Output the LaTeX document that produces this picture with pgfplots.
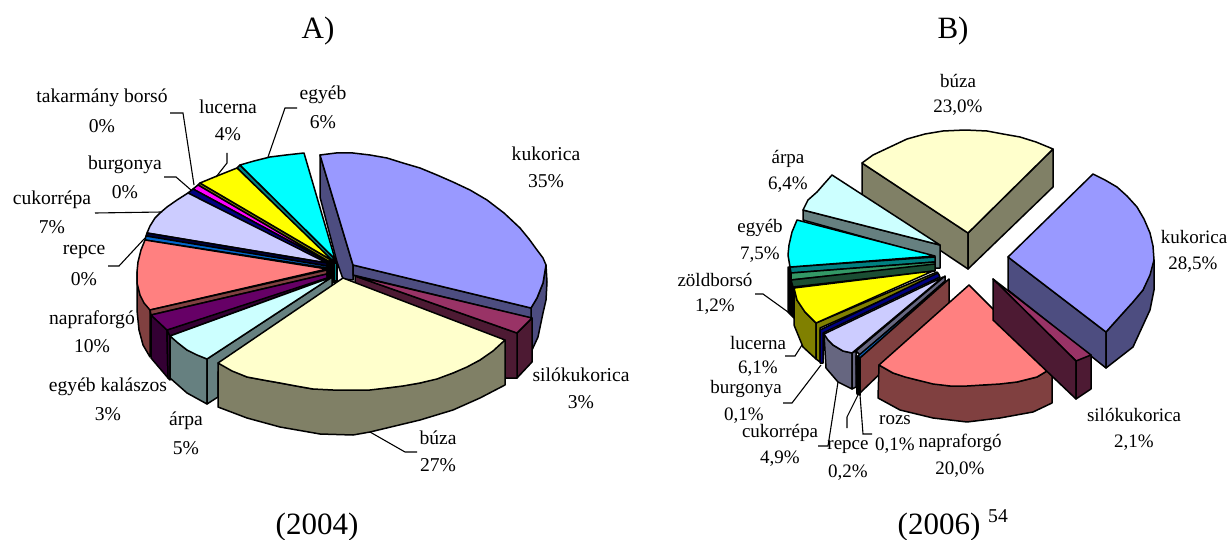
\documentclass[border=0pt]{standalone}
\usepackage{fontspec}
\setmainfont{Liberation Serif}
\usepackage{pgfplots}
\pgfplotsset{compat=1.18}
\definecolor{kuk}{HTML}{9999FF}\definecolor{kukd}{HTML}{4D4D80}
\definecolor{sil}{HTML}{993366}\definecolor{sild}{HTML}{4D1A33}
\definecolor{buz}{HTML}{FFFFCC}\definecolor{buzd}{HTML}{808066}
\definecolor{arp}{HTML}{CCFFFF}\definecolor{arpd}{HTML}{668080}
\definecolor{kal}{HTML}{660066}\definecolor{kald}{HTML}{330033}
\definecolor{nap}{HTML}{FF8080}\definecolor{napd}{HTML}{804040}
\definecolor{cuk}{HTML}{CCCCFF}\definecolor{cukd}{HTML}{666680}
\definecolor{rep}{HTML}{0066CC}\definecolor{repd}{HTML}{003366}
\definecolor{bur}{HTML}{000080}\definecolor{burd}{HTML}{000040}
\definecolor{tak}{HTML}{FF00FF}
\definecolor{luc}{HTML}{FFFF00}\definecolor{lucd}{HTML}{808000}
\definecolor{egy}{HTML}{00FFFF}\definecolor{egyd}{HTML}{008080}
\definecolor{zol}{HTML}{339966}\definecolor{zold}{HTML}{1A4D33}
% filled face and leader line, coordinates are reference pixels
\newcommand{\pg}[2]{\addplot[draw=black,line width=0.75pt,line join=round,fill=#1] coordinates {#2} --cycle;}
\newcommand{\ld}[1]{\addplot[draw=black,line width=0.55pt] coordinates {#1};}
\newcommand{\lab}[3]{\node[font=\fontsize{9.8}{12}\selectfont,inner sep=0pt] at (axis cs:#1,#2) {#3};}
\newcommand{\labb}[3]{\node[font=\fontsize{9.5}{12}\selectfont,inner sep=0pt] at (axis cs:#1,#2) {#3};}
\newcommand{\tit}[3]{\node[font=\fontsize{15.5}{18}\selectfont,inner sep=0pt] at (axis cs:#1,#2) {#3};}
\begin{document}
\begin{tikzpicture}
\begin{axis}[
    name=ax,
    hide axis, scale only axis, width=613.5pt, height=270pt,
    xmin=0, xmax=1227, ymin=0, ymax=540, y dir=reverse,
    enlargelimits=false, clip=false, no marks,
]
% ---- A) 2004
% kukorica
\pg{kukd}{(546,265)(547,282)(546,300)(543,313)(538,337)(532,350)(531,308)(537,298)(543,283)}
\pg{kukd}{(320,155)(353,265)(353,280)(343,279)(337,262)(320,197)}
\pg{kukd}{(353,265)(531,308)(531,318)(353,275)}
\pg{kuk}{(320,155)(336,153)(353,153)(370,155)(387,158)(403,163)(420,168)(437,175)(453,182)(470,190)(487,200)(504,213)(520,228)(529,239)(537,250)(543,258)(546,265)(543,283)(537,298)(531,308)(353,265)}
% silokukorica
\pg{sild}{(517,333)(532,318)(532,362)(517,378)}
\pg{sild}{(355,276)(517,333)(517,378)(505,378)(355,300)}
\pg{sil}{(355,276)(532,318)(525,325)(517,333)}
% egyeb
\pg{egyd}{(240,165)(335,259)(333,262)(237,168)}
\pg{egy}{(304,153)(286,155)(270,157)(254,161)(240,165)(335,259)}
% lucerna
\pg{lucd}{(200,183)(333,261)(331,263)(198,185)}
\pg{luc}{(237,168)(217,176)(200,183)(333,261)}
% takarmany borso, burgonya
\pg{tak}{(198,185)(193,189)(328,262)(331,263)}
\pg{bur}{(193,189)(188,193)(326,263)(330,263)}
% cukorrepa
\pg{cuk}{(188,193)(177,200)(167,207)(160,213)(155,218)(150,226)(147,233)(327,263)}
\pg{burd}{(147,233)(327,263)(327,266)(146,236)}
\pg{rep}{(146,236)(327,266)(327,268)(145,240)}
% napraforgo
\pg{napd}{(137,272)(140,295)(150,310)(150,357)(143,345)(139,330)(137,310)}
\pg{nap}{(145,240)(141,250)(138,262)(137,272)(137,283)(140,295)(144,303)(150,310)(327,269)}
\pg{napd}{(150,310)(327,270)(327,274)(151,315)}
% egyeb kalaszos
\pg{kald}{(151,315)(167,330)(168,378)(151,358)}
\pg{kald}{(167,330)(170,336)(170,380)(168,378)}
\pg{kald}{(167,330)(327,276)(332,277)(170,336)}
\pg{kal}{(151,315)(167,330)(327,278)(327,274)}
% kozep
\pg{black}{(327,262)(335,258)(337,263)(336,282)(332,282)(327,276)}
\pg{egyd}{(334,263)(337,263)(337,281)(334,281)}
% arpa
\pg{arpd}{(170,336)(187,350)(207,359)(207,404)(187,393)(170,378)}
\pg{arpd}{(332,277)(332,295)(218,372)(218,397)(207,404)(207,359)}
\pg{arp}{(332,277)(170,336)(178,343)(187,350)(197,355)(207,359)}
% buza
\pg{buzd}{(218,363)(247,377)(280,383)(313,389)(353,390)(387,388)(420,383)(453,373)(480,360)(505,340)(505,385)(480,398)(453,410)(420,420)(370,432)(353,435)(320,434)(280,427)(247,418)(218,407)}
\pg{buz}{(343,278)(505,340)(493,351)(480,360)(467,367)(453,373)(437,379)(420,383)(403,386)(387,388)(370,390)(353,390)(333,390)(313,389)(296,386)(280,383)(263,380)(247,377)(232,371)(218,363)}
% leaders A
\ld{(170,113)(183,113)(194,185)}
\ld{(227,153)(227,163)(216,177)}
\ld{(297,108)(285,108)(268,157)}
\ld{(164,177)(176,177)(191,190)}
\ld{(95,213)(162,212)}
\ld{(108,266)(119,266)(145,238)}
\ld{(370,432)(405,452)(417,452)}
% ---- B) 2006
% buza
\pg{buzd}{(862,163)(968,233)(968,269)(862,198)}
\pg{buzd}{(968,233)(1053,149)(1053,187)(968,269)}
\pg{buz}{(862,163)(873,155)(890,147)(907,139)(925,134)(943,131)(965,130)(987,131)(1003,134)(1020,137)(1036,142)(1053,149)(968,233)}
% arpa
\pg{arpd}{(803,210)(803,220)(935,257)(935,268)(940,268)(940,245)}
\pg{arp}{(832,175)(940,245)(803,210)(808,200)(817,192)(824,184)}
% egyeb, zoldborso
\pg{black}{(788,267)(792,267)(794,288)(794,318)(788,312)}
\pg{egyd}{(790,267)(935,257)(935,262)(791,273)}
\pg{egy}{(797,220)(792,232)(789,245)(788,255)(790,267)(935,256)}
\pg{zol}{(791,273)(935,262)(935,265)(791,280)}
\pg{zold}{(791,280)(935,264)(935,271)(793,287)}
% lucerna
\pg{lucd}{(794,288)(797,300)(805,312)(816,323)(816,359)(803,347)(794,325)}
\pg{lucd}{(816,323)(937,272)(939,275)(820,328)(820,362)(816,359)}
\pg{luc}{(933,271)(794,288)(797,300)(805,312)(816,323)}
% burgonya
\pg{bur}{(820,363)(823,363)(823,333)(940,277)(938,273)(820,330)}
% cukorrepa
\pg{cukd}{(824,334)(833,345)(843,351)(852,353)(852,389)(838,382)(826,368)}
\pg{cukd}{(852,353)(856,351)(856,387)(852,389)}
\pg{cukd}{(856,351)(945,276)(945,281)(860,355)}
\pg{cuk}{(943,277)(824,334)(828,340)(833,345)(843,351)(852,353)}
\pg{black}{(856,356)(860,356)(860,395)(857,394)}
\pg{rep}{(858,356)(944,283)(945,285)(860,358)}
% napraforgo
\pg{napd}{(949,279)(949,307)(860,393)(860,358)}
\pg{napd}{(879,365)(893,373)(917,380)(950,386)(983,385)(1017,382)(1037,377)(1052,368)(1052,403)(1033,412)(1000,418)(967,422)(933,418)(900,410)(878,398)}
\pg{nap}{(969,285)(879,365)(893,373)(905,377)(917,380)(933,384)(950,386)(967,386)(983,385)(1000,384)(1017,382)(1037,377)(1052,368)}
% kukorica
\pg{kukd}{(1008,257)(1106,332)(1106,368)(1008,290)}
\pg{kukd}{(1154,260)(1154,290)(1150,310)(1133,347)(1106,368)(1106,332)(1123,313)(1143,290)}
\pg{kuk}{(1008,257)(1093,174)(1105,180)(1117,187)(1127,196)(1137,207)(1144,219)(1150,233)(1153,246)(1154,260)(1150,275)(1143,290)(1133,302)(1123,313)(1114,323)(1106,332)}
% silokukorica
\pg{sil}{(993,279)(1091,355)(1082,361)(1076,361)}
\pg{sild}{(993,279)(1076,361)(1076,399)(993,320)}
\pg{sild}{(1076,361)(1091,355)(1091,389)(1076,399)}
% leaders B
\ld{(755,294)(763,294)(788,312)}
\ld{(785,356)(795,356)(802,345)}
\ld{(783,403)(792,403)(821,365)}
\ld{(818,446)(828,446)(838,382)}
\ld{(847,428)(847,417)(858,395)}
\ld{(872,434)(863,434)(860,395)}
% ---- text
\tit{318}{31}{A)}
\tit{953}{31}{B)}
\tit{317}{527}{(2004)}
\tit{939}{527}{(2006)}
\lab{998}{516}{54}
\lab{102}{98}{takarmány borsó}\lab{102}{126}{0\%}
\lab{228}{107}{lucerna}\lab{228}{134}{4\%}
\lab{323}{95}{egyéb}\lab{323}{122}{6\%}
\lab{546}{154}{kukorica}\lab{546}{181}{35\%}
\lab{125}{165}{burgonya}\lab{125}{192}{0\%}
\lab{52}{200}{cukorrépa}\lab{52}{227}{7\%}
\lab{84}{252}{repce}\lab{84}{279}{0\%}
\lab{92}{320}{napraforgó}\lab{92}{346}{10\%}
\lab{108}{387}{egyéb kalászos}\lab{108}{414}{3\%}
\lab{186}{421}{árpa}\lab{186}{448}{5\%}
\lab{581}{375}{silókukorica}\lab{581}{402}{3\%}
\lab{438}{438}{búza}\lab{438}{465}{27\%}
\labb{958}{81}{búza}\labb{958}{108}{23,0\%}
\labb{788}{159}{árpa}\labb{788}{185}{6,4\%}
\labb{760}{228}{egyéb}\labb{760}{255}{7,5\%}
\labb{715}{280}{zöldborsó}\labb{715}{307}{1,2\%}
\labb{758}{343}{lucerna}\labb{758}{369}{6,1\%}
\labb{746}{389}{burgonya}\labb{744}{416}{0,1\%}
\labb{780}{433}{cukorrépa}\labb{780}{459}{4,9\%}
\labb{848}{447}{repce}\labb{848}{473}{0,2\%}
\labb{895}{420}{rozs}\labb{895}{446}{0,1\%}
\labb{960}{443}{napraforgó}\labb{960}{470}{20,0\%}
\labb{1134}{415}{silókukorica}\labb{1134}{443}{2,1\%}
\labb{1194}{237}{kukorica}\labb{1193}{265}{28,5\%}
\end{axis}
\pgfresetboundingbox
\path[use as bounding box] (ax.south west) rectangle (ax.north east);
\end{tikzpicture}
\end{document}
